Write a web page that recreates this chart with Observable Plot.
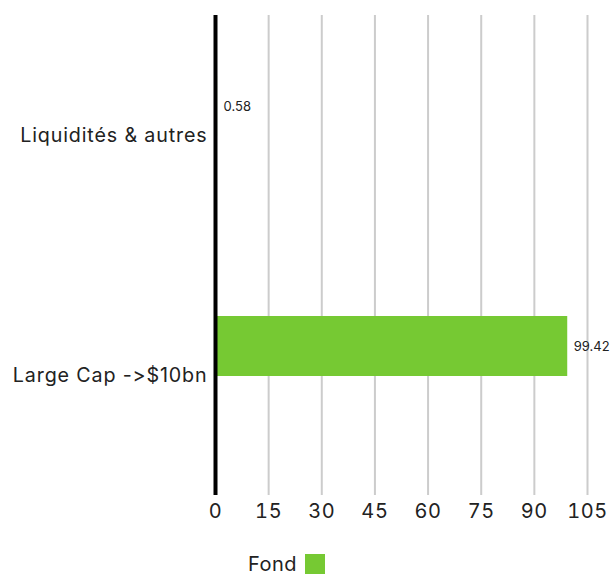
<!DOCTYPE html>
<html>
<head>
<meta charset="utf-8">
<script src="https://cdn.jsdelivr.net/npm/d3@7"></script>
<script src="https://cdn.jsdelivr.net/npm/@observablehq/plot@0.6"></script>
<style>
  body { margin: 0; background: #fff; font-family: Inter, "Liberation Sans", sans-serif; }
  svg text { font-variant-ligatures: none; font-feature-settings: "liga" 0, "calt" 0; }
  g[aria-label="y-axis tick label"] text { letter-spacing: 0.85px; }
  g[aria-label="x-axis tick label"] text { letter-spacing: 0.6px; }
  #legend { display: flex; align-items: center; padding-left: 248px; margin-top: 23px; font-size: 20px; line-height: 22px; color: #222; letter-spacing: 0.5px; }
  #legend .sw { width: 20px; height: 20px; background: #76c933; margin-left: 8px; }
</style>
</head>
<body>
<div id="chart"></div>
<div id="legend"><span>Fond</span><span class="sw"></span></div>
<script>
const categories = ["Liquidités & autres", "Large Cap ->$10bn"];
const fondValues = [0.58, 99.42];
const xTicks = [0, 15, 30, 45, 60, 75, 90, 105];
const seriesName = "Fond";

const data = categories.map((c, i) => ({category: c, value: fondValues[i], series: seriesName}));

const chart = Plot.plot({
  width: 611,
  height: 530,
  marginLeft: 215,
  marginRight: 24,
  marginTop: 15,
  marginBottom: 35,
  style: {fontFamily: "Inter, 'Liberation Sans', sans-serif", color: "#222", background: "#fff"},
  x: {domain: [0, 105], ticks: xTicks, label: null},
  y: {domain: categories, padding: 0, label: null},
  marks: [
    Plot.ruleX(xTicks.filter(t => t !== 0), {stroke: "#cccccc", strokeWidth: 2}),
    Plot.barX(data, {x: "value", y: "category", fill: "#76c933", insetTop: 61, insetBottom: 119}),
    Plot.ruleX([0], {stroke: "#000", strokeWidth: 4}),
    Plot.text(data, {x: "value", y: "category", text: d => d.value.toFixed(2), textAnchor: "start", dx: 6, dy: -29, fontSize: 13, fill: "#222"}),
    Plot.axisX({ticks: xTicks, tickSize: 0, tickPadding: 8, fontSize: 20, label: null}),
    Plot.axisY({tickSize: 0, tickPadding: 8, fontSize: 19.7, label: null})
  ]
});
document.getElementById("chart").appendChild(chart);
</script>
</body>
</html>
